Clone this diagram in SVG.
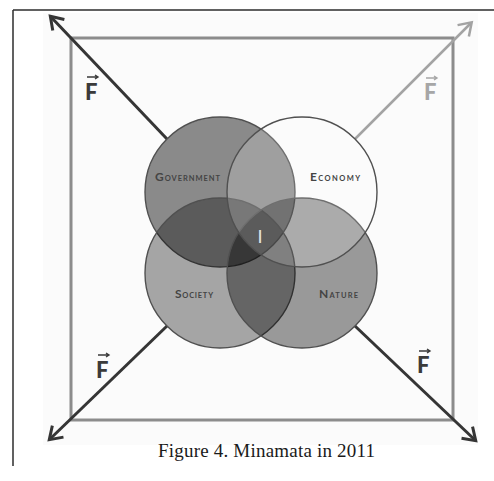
<svg xmlns="http://www.w3.org/2000/svg" width="494" height="481" viewBox="0 0 494 481">
  <style>
    .frame { stroke: #2e2e2e; stroke-width: 1.5; fill: none; }
    .square { stroke: #8c8c8c; stroke-width: 3; fill: none; }
    .outline { stroke: #505050; stroke-width: 1.4; }
    .lbl { font-family: Lato, "Liberation Sans", sans-serif; fill: #444444; }
    .big { font-size: 12px; font-weight: bold; }
    .sc { font-size: 7.5px; font-weight: bold; }
    .force { font-family: Lato, "Liberation Sans", sans-serif; font-size: 22px; font-weight: 900; }
    .dark { fill: #3a3a3a; }
    .light { fill: #a6a6a6; }
    .vec { fill: none; stroke-width: 1.4; }
    .conn-dark { stroke: #353535; stroke-width: 3; fill: none; }
    .conn-light { stroke: #a3a3a3; stroke-width: 2.5; fill: none; }
    .caption { font-family: "Liberation Serif", serif; font-size: 19px; fill: #1a1a1a; }
  </style>
  <defs>
    <marker id="headDark" markerUnits="userSpaceOnUse" viewBox="-14 -10 18 20" refX="0" refY="0" markerWidth="18" markerHeight="20" orient="auto" overflow="visible">
      <path d="M -11 -8 L 1 0 L -11 8" fill="none" stroke="#353535" stroke-width="3" stroke-linejoin="miter"/>
    </marker>
    <marker id="headLight" markerUnits="userSpaceOnUse" viewBox="-14 -10 18 20" refX="0" refY="0" markerWidth="18" markerHeight="20" orient="auto" overflow="visible">
      <path d="M -11 -8 L 1 0 L -11 8" fill="none" stroke="#a3a3a3" stroke-width="2.5" stroke-linejoin="miter"/>
    </marker>
  </defs>

  <!-- page background and frame rules -->
  <rect x="0" y="0" width="494" height="481" fill="#ffffff"/>
  <rect x="43" y="13" width="435" height="432" fill="#fbfbfb"/>
  <path class="frame" d="M 13 10 H 494 M 13 10 V 466"/>

  <!-- gray square behind the circles -->
  <rect class="square" x="71" y="38" width="382" height="382"/>

  <!-- force arrows -->
  <g id="connectors">
    <line class="conn-dark" x1="167" y1="139" x2="51" y2="17" marker-end="url(#headDark)"/>
    <line class="conn-light" x1="355" y1="139" x2="471" y2="23" marker-end="url(#headLight)"/>
    <line class="conn-dark" x1="167" y1="326" x2="50" y2="439" marker-end="url(#headDark)"/>
    <line class="conn-dark" x1="355" y1="326" x2="475" y2="440" marker-end="url(#headDark)"/>
  </g>

  <!-- force labels -->
  <g id="force-tl">
    <text class="force dark" x="85" y="100">F</text>
    <path class="vec" stroke="#3a3a3a" d="M 87 77 H 98 M 95 75 L 98 77 L 95 79"/>
  </g>
  <g id="force-tr">
    <text class="force light" x="424" y="100">F</text>
    <path class="vec" stroke="#a6a6a6" d="M 426 78 H 437 M 434 76 L 437 78 L 434 80"/>
  </g>
  <g id="force-bl">
    <text class="force dark" x="96" y="378">F</text>
    <path class="vec" stroke="#3a3a3a" d="M 98 355 H 109 M 106 353 L 109 355 L 106 357"/>
  </g>
  <g id="force-br">
    <text class="force dark" x="417" y="373">F</text>
    <path class="vec" stroke="#3a3a3a" d="M 419 351 H 430 M 427 349 L 430 351 L 427 353"/>
  </g>

  <!-- the four overlapping spheres -->
  <g id="government">
    <circle class="outline" cx="220" cy="192" r="75" fill="#000" fill-opacity="0.45"/>
    <text class="lbl" x="155" y="181" textLength="65"><tspan class="big">G</tspan><tspan class="sc">OVERNMENT</tspan></text>
  </g>
  <g id="society">
    <circle class="outline" cx="220" cy="273" r="75" fill="#000" fill-opacity="0.34"/>
    <text class="lbl" x="175" y="298" textLength="38"><tspan class="big">S</tspan><tspan class="sc">OCIETY</tspan></text>
  </g>
  <g id="nature">
    <circle class="outline" cx="302" cy="273" r="75" fill="#000" fill-opacity="0.39"/>
    <text class="lbl" x="319" y="298" textLength="39"><tspan class="big">N</tspan><tspan class="sc">ATURE</tspan></text>
  </g>
  <g id="economy">
    <circle class="outline" cx="302" cy="192" r="75" fill="#fff" fill-opacity="0.18"/>
    <text class="lbl" x="310" y="181" textLength="50"><tspan class="big">E</tspan><tspan class="sc">CONOMY</tspan></text>
  </g>

  <!-- centre label where all spheres meet -->
  <g id="intersection">
    <text x="260" y="243" text-anchor="middle" font-family="Lato, 'Liberation Sans', sans-serif" font-size="18" fill="#e4e4e4">I</text>
  </g>

  <text class="caption" x="158" y="457" textLength="217">Figure 4. Minamata in 2011</text>
</svg>
